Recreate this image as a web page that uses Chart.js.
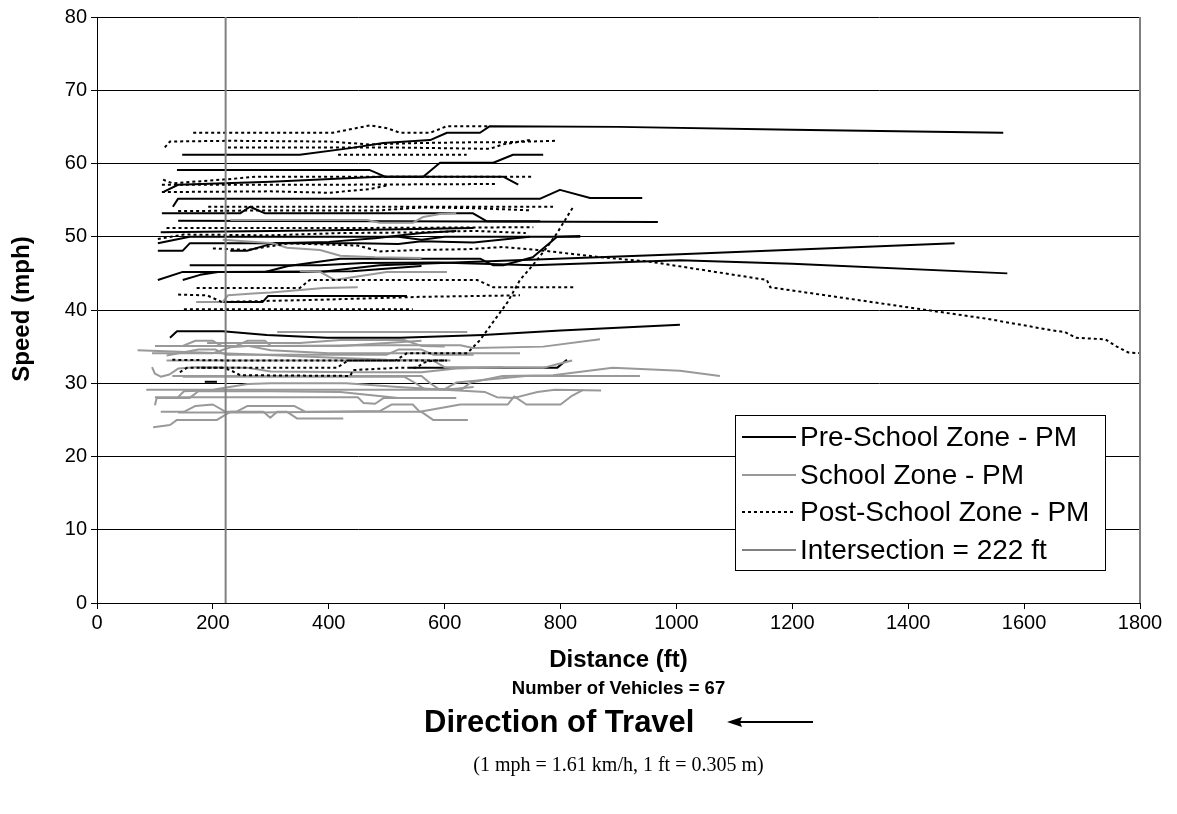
<!DOCTYPE html>
<html>
<head>
<meta charset="utf-8">
<script src="https://cdn.jsdelivr.net/npm/chart.js@4.4.1/dist/chart.umd.min.js"></script>
<style>
  html, body { margin: 0; padding: 0; background: #fff; }
  #wrap { width: 1177px; height: 814px; position: relative; }
</style>
</head>
<body>
<div id="wrap"><canvas id="chart" width="1177" height="814"></canvas></div>
<script>
// Speed profiles, one list of [distance (ft), speed (mph)] per vehicle.
const preSchoolTrips = [
  [[147,61.2],[350,61.2],[437,62.1],[494,62.8],[575,63.2],[604,64.2],[661,64.2],[678,65.1],[900,65],[1200,64.6],[1564,64.2]],
  [[138,59.1],[471,59.1],[497,58.2],[563,58.2],[592,60.1],[684,60.1],[718,61.2],[770,61.2]],
  [[114,56.1],[140,57.1],[300,57.5],[488,58.2],[701,58.2],[727,57.1]],
  [[131,54.1],[140,55.2],[765,55.2],[799,56.4],[851,55.3],[941,55.3]],
  [[140,52.2],[500,52.1],[968,52]],
  [[112,53.2],[247,53.2],[264,54.1],[290,53.2],[649,53.2],[673,52.1],[765,52.1]],
  [[105,49.1],[160,50],[520,50],[560,49.6],[600,50],[834,50]],
  [[105,48.1],[148,48.1],[160,49.1],[450,49.1],[520,49],[560,49.4],[650,49.2],[747,50]],
  [[105,44.1],[148,45.2],[385,45.2],[488,46.1],[1006,47.6],[1480,49.1]],
  [[160,46.1],[385,46.1],[460,46.4],[590,46.5],[752,46.1],[1006,46.8],[1200,46.3],[1571,45]],
  [[148,44.1],[178,44.8],[209,45.2],[440,45.3],[560,46]],
  [[172,41.1],[286,41.1],[295,41.9],[535,41.9]],
  [[126,36.2],[138,37.1],[217,37.1],[293,36.6],[397,36.2],[523,36.2],[666,36.6],[800,37.2],[1006,38]],
  [[186,30.2],[207,30.2]],
  [[540,32.1],[794,32.1],[811,33.2]],
  [[230,48.1],[259,48.1],[304,49.1],[400,49.3],[480,49.8],[560,50.5],[620,50.8]],
  [[160,45.2],[290,45.2],[330,46],[420,47],[661,47],[684,46.1],[701,46.1],[752,47.2],[794,50],[834,50.1]],
  [[110,50.6],[300,50.8],[500,51],[650,51.2]]
];

const schoolTrips = [
  [[311,37],[639,37]],
  [[100,35.1],[300,35.1],[488,35.2],[627,35.2],[649,34.8],[770,35],[868,36]],
  [[95,34.1],[200,34.1],[230,34.9],[260,35.1],[300,34.5],[400,34.1],[730,34.1]],
  [[70,34.5],[250,34],[400,33.5],[500,33.2],[610,33.1]],
  [[120,33.1],[580,33.1],[600,32.2],[770,32.1],[794,32.6],[820,33.1]],
  [[95,32.2],[100,31.3],[110,30.9],[125,31.2],[140,32],[170,32.2],[260,32.1],[300,31.6],[460,31.5],[560,31.5],[620,32],[700,32.2]],
  [[130,31],[420,31],[560,31],[575,30],[590,29.2],[630,29.2],[645,30.1],[700,31],[787,31.1],[890,32.1],[1006,31.7],[1075,31]],
  [[148,30.9],[480,30.9],[530,30.9],[550,30],[565,29.2],[600,29.2],[620,30.1],[740,31],[937,31]],
  [[100,28.1],[140,28.1],[150,28.9],[230,29.1],[420,29.1],[600,29.1],[670,28.8],[690,28.1],[720,28],[760,28.8],[790,29.1],[870,29]],
  [[100,27],[103,28],[160,28],[175,28.9],[300,28.9],[420,28.8],[520,28]],
  [[110,26.1],[150,26.1],[170,26.9],[200,27.1],[222,26.1],[240,26.1],[260,26.9],[340,26.9],[360,26.1],[560,26.1],[580,25],[640,25]],
  [[140,26],[280,26],[400,26.1],[488,26.2],[509,27.1],[545,27.1],[557,26.1],[627,27.1],[709,27.1],[720,28.2],[741,27.1],[800,27.1],[818,28.2],[839,29.1]],
  [[97,24],[126,24.3],[138,25],[207,25],[230,26.1],[287,26.1],[299,25.3],[311,26.1],[328,26.1],[345,25.2],[425,25.2]],
  [[110,35.1],[148,35.1],[170,35.8],[200,35.8],[215,35.1],[240,35.1],[260,35.8],[290,35.8],[300,35.1],[420,35.1],[520,35.6],[560,35.8]],
  [[172,41.1],[217,41.1],[226,42],[276,42.3],[300,42.4],[391,43],[450,43.1]],
  [[350,45.3],[385,45.2],[410,44.1],[500,45.2],[604,45.2]],
  [[217,49.6],[304,49.1],[328,48.5],[385,48.2],[420,47.4],[480,47.2],[560,47.1]],
  [[230,52.3],[466,52.3],[488,51.9],[545,51.9],[563,52.7],[592,53.1],[620,53.2]],
  [[85,29.1],[200,29.1],[260,29.9],[300,30],[430,30],[520,29.5],[600,29.1],[650,29.5]],
  [[120,33.8],[175,34.6],[205,34.6],[222,33.9],[330,33.9],[500,33.9],[520,34.6],[560,34.6],[580,33.9],[650,33.9]],
  [[140,28.1],[300,28.1],[450,28.1],[460,27.3],[480,27.2],[495,28],[620,28]],
  [[190,35.5],[350,35.5],[420,35.9],[530,35.9],[560,35.1],[600,35]]
];

const postSchoolTrips = [
  [[166,64.2],[407,64.2],[471,65.2],[501,64.8],[523,64.2],[575,64.2],[604,65.1],[678,65.1]],
  [[117,62.2],[126,63],[230,63.1],[400,63],[470,62.6],[560,62.8],[650,62.9],[700,62.9],[794,63.1]],
  [[226,62.2],[500,62.2],[678,62],[700,62.6],[747,63.2]],
  [[416,61.2],[638,61.2]],
  [[114,57.8],[130,57.3],[217,57.8],[276,58.2],[425,58.2],[751,58.2]],
  [[112,57.1],[400,57.1],[690,57.2]],
  [[112,56.1],[300,56.2],[400,56],[470,56.5],[500,57]],
  [[192,54.1],[787,54.1]],
  [[140,53.5],[300,53.6],[488,53.6],[560,54],[650,53.9],[750,53.6]],
  [[120,51.2],[450,51.2],[753,51.3]],
  [[105,49.7],[150,50.3],[300,50.2],[420,50.5],[560,50.6],[650,50.8],[740,50.5]],
  [[200,48.4],[260,48.2],[330,49.1],[450,48.8],[488,48],[560,48.2],[640,48.3],[700,48.6],[760,48.2],[870,47.2],[954,46.6],[1156,44.1],[1162,43.1],[1536,38.8],[1650,37.2],[1670,37],[1690,36.2],[1740,36],[1760,35],[1780,34.2],[1800,34.1]],
  [[130,33.2],[240,33.1],[400,33.1],[515,33.1],[535,34.1],[639,34.1],[661,35.9],[684,38.4],[708,41],[730,44.1],[752,46.1],[777,48.6],[794,50.5],[811,52.7],[822,54.1]],
  [[172,43],[350,43],[367,44.1],[656,44.1],[684,43.1],[822,43.1]],
  [[140,42.1],[190,42],[215,41.1],[385,41.4],[560,41.8],[730,42]],
  [[150,40.1],[360,40.1],[545,40.1]],
  [[143,31.5],[155,32.1],[217,32.1],[230,31.8],[247,31.1],[437,31],[442,31.8],[518,32.1],[552,32.1],[563,32.8],[580,33.1],[604,33.1]],
  [[180,32.1],[414,32.1],[433,33.1],[604,33.1]]
];

const intersectionFt = 222;
const vehicleCount = 67;
const speedRange = [0, 80, 10];
const distanceRange = [0, 1800, 200];
const legendLabels = ['Pre-School Zone - PM', 'School Zone - PM', 'Post-School Zone - PM', 'Intersection = 222 ft'];

const styles = {
  pre:  { borderColor: '#000000', borderWidth: 2, borderDash: [] },
  school: { borderColor: '#999999', borderWidth: 2, borderDash: [] },
  post: { borderColor: '#000000', borderWidth: 2, borderDash: [3, 3] },
  inter: { borderColor: '#808080', borderWidth: 2, borderDash: [] }
};

function toDataset(trip, style, order) {
  return {
    data: trip.map(p => ({ x: p[0], y: p[1] })),
    showLine: true,
    pointRadius: 0,
    pointHoverRadius: 0,
    tension: 0,
    fill: false,
    order: order,
    borderColor: style.borderColor,
    borderWidth: style.borderWidth,
    borderDash: style.borderDash,
    borderCapStyle: 'butt',
    borderJoinStyle: 'round'
  };
}

const datasets = [];
preSchoolTrips.forEach(t => datasets.push(toDataset(t, styles.pre, 4)));
schoolTrips.forEach(t => datasets.push(toDataset(t, styles.school, 3)));
postSchoolTrips.forEach(t => datasets.push(toDataset(t, styles.post, 2)));
datasets.push(toDataset([[intersectionFt, speedRange[0]], [intersectionFt, speedRange[1]]], styles.inter, 1));

const SANS = '"Liberation Sans", Arial, sans-serif';
const SERIF = '"Liberation Serif", "Times New Roman", serif';

// Plot frame, legend box and the notes under the x axis.
const decorations = {
  id: 'decorations',
  afterDatasetsDraw(chart) {
    const ctx = chart.ctx;
    const a = chart.chartArea;
    ctx.save();
    // right-hand frame of the plot area
    ctx.strokeStyle = '#808080';
    ctx.lineWidth = 2;
    ctx.beginPath();
    ctx.moveTo(a.right, a.top);
    ctx.lineTo(a.right, a.bottom);
    ctx.stroke();

    // legend
    const bx = 735, by = 415, bw = 370, bh = 155;
    ctx.fillStyle = '#ffffff';
    ctx.fillRect(bx, by, bw, bh);
    ctx.strokeStyle = '#000000';
    ctx.lineWidth = 1;
    ctx.strokeRect(bx + 0.5, by + 0.5, bw, bh);
    const keys = [styles.pre, styles.school, styles.post, styles.inter];
    const rowY = [437, 475, 512, 550];
    ctx.font = '28px ' + SANS;
    ctx.textBaseline = 'middle';
    ctx.textAlign = 'left';
    keys.forEach((s, i) => {
      ctx.strokeStyle = s.borderColor;
      ctx.lineWidth = s.borderWidth;
      ctx.setLineDash(s.borderDash);
      ctx.beginPath();
      ctx.moveTo(742, rowY[i]);
      ctx.lineTo(796, rowY[i]);
      ctx.stroke();
      ctx.setLineDash([]);
      ctx.fillStyle = '#000000';
      ctx.fillText(legendLabels[i], 800, rowY[i] + 1);
    });
    ctx.restore();
  },
  afterDraw(chart) {
    const ctx = chart.ctx;
    const a = chart.chartArea;
    const cx = (a.left + a.right) / 2;
    ctx.save();
    ctx.fillStyle = '#000000';
    ctx.textBaseline = 'middle';

    // y axis title
    ctx.save();
    ctx.translate(22, 309);
    ctx.rotate(-Math.PI / 2);
    ctx.textAlign = 'center';
    ctx.font = 'bold 24px ' + SANS;
    ctx.fillText('Speed (mph)', 0, 0);
    ctx.restore();

    ctx.textAlign = 'center';
    ctx.font = 'bold 24px ' + SANS;
    ctx.fillText('Distance (ft)', cx, 660);
    ctx.font = 'bold 18.5px ' + SANS;
    ctx.fillText('Number of Vehicles = ' + vehicleCount, cx, 689);

    ctx.textAlign = 'left';
    ctx.font = 'bold 31px ' + SANS;
    ctx.fillText('Direction of Travel', 424, 723);

    // arrow pointing in the direction of travel
    ctx.strokeStyle = '#000000';
    ctx.lineWidth = 2;
    ctx.beginPath();
    ctx.moveTo(813, 722);
    ctx.lineTo(738, 722);
    ctx.stroke();
    ctx.beginPath();
    ctx.moveTo(727, 722);
    ctx.lineTo(742, 717);
    ctx.lineTo(740, 722);
    ctx.lineTo(742, 727);
    ctx.closePath();
    ctx.fill();

    ctx.textAlign = 'center';
    ctx.font = '20px ' + SERIF;
    ctx.fillText('(1 mph = 1.61 km/h, 1 ft = 0.305 m)', cx, 766);
    ctx.restore();
  }
};

new Chart(document.getElementById('chart'), {
  type: 'scatter',
  data: { datasets },
  options: {
    responsive: false,
    animation: false,
    events: [],
    layout: { padding: { left: 0, top: 17, right: 37, bottom: 0 } },
    plugins: { legend: { display: false }, tooltip: { enabled: false } },
    scales: {
      x: {
        type: 'linear',
        min: distanceRange[0], max: distanceRange[1],
        afterFit(scale) { scale.height = 211; },
        ticks: { stepSize: distanceRange[2], color: '#000', font: { family: SANS, size: 20 }, padding: 2, maxRotation: 0,
                 callback: v => String(v) },
        grid: { drawOnChartArea: false, drawTicks: true, tickLength: 6, color: '#000', lineWidth: 1 },
        border: { color: '#000', width: 1 }
      },
      y: {
        type: 'linear',
        min: speedRange[0], max: speedRange[1],
        afterFit(scale) { scale.width = 97; },
        ticks: { stepSize: speedRange[2], color: '#000', font: { family: SANS, size: 20 }, padding: 4,
                 callback: v => String(v) },
        grid: { color: '#000', lineWidth: 1, tickLength: 6 },
        border: { color: '#000', width: 1 }
      }
    }
  },
  plugins: [decorations]
});
</script>
</body>
</html>
